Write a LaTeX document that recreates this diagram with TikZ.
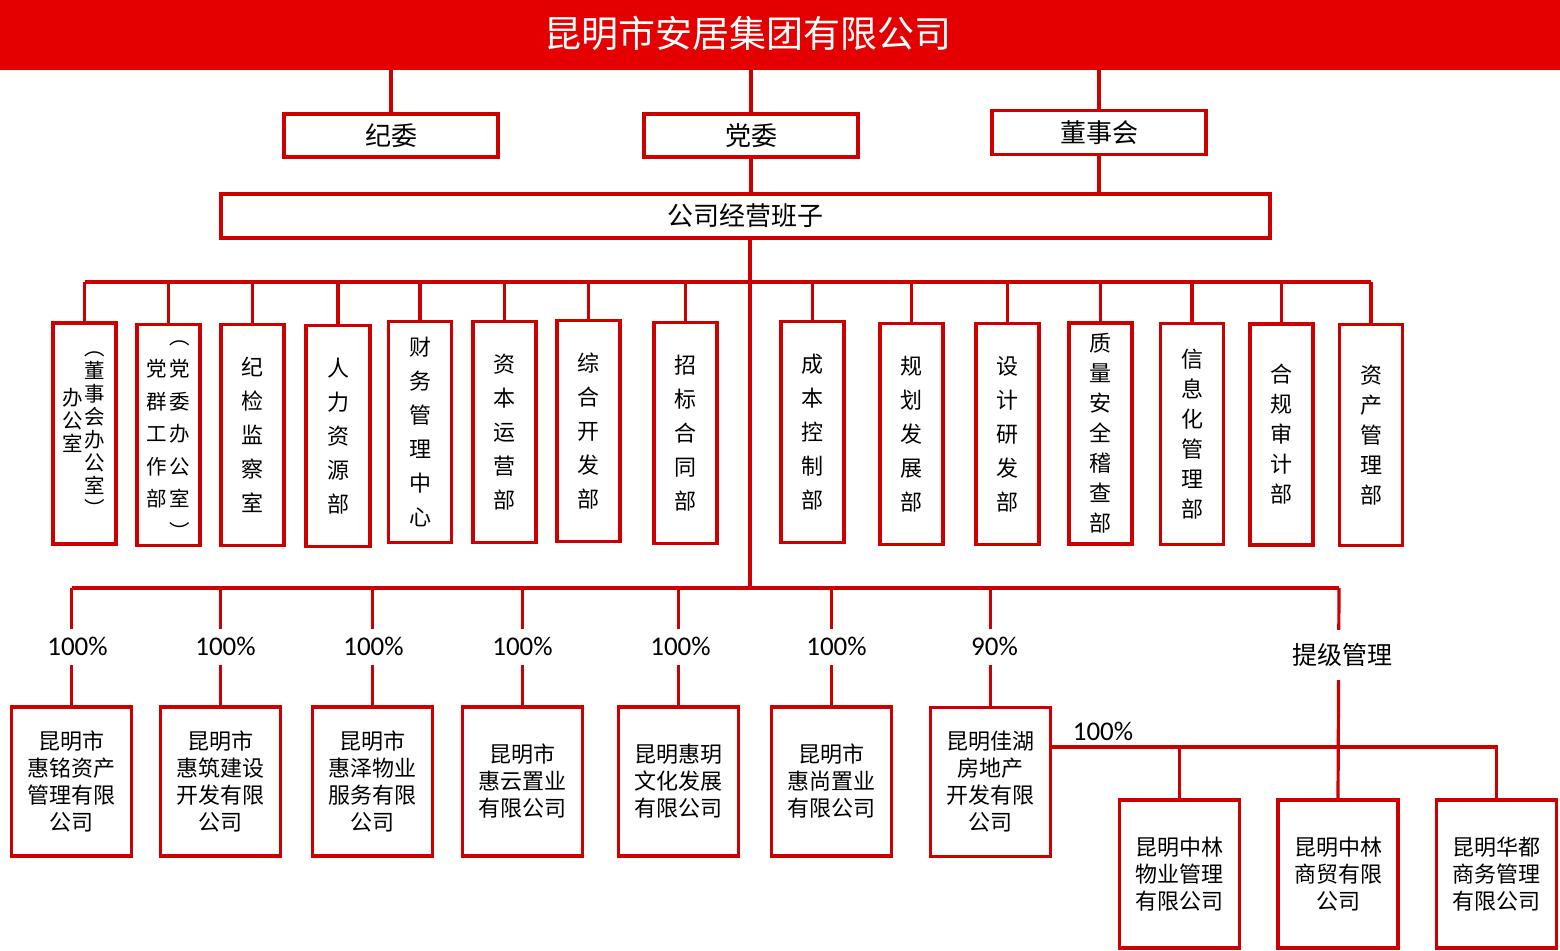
\documentclass[tikz,border=0pt]{standalone}
\usepackage{fontspec}
\setmainfont{Noto Sans CJK SC}
\newfontfamily\numfont{Carlito}
\definecolor{lred}{RGB}{204,0,0}
\definecolor{barred}{RGB}{228,0,0}
\tikzset{
  box/.style={draw=lred, line width=3.5pt, inner sep=0pt, align=center},
  topbox/.style={box, minimum width=214pt, minimum height=43pt, font=\fontsize{26}{30}\selectfont},
  dept/.style={box, minimum width=63pt, minimum height=221pt, font=\fontsize{22}{34}\selectfont},
  deptb/.style={dept, font=\fontsize{22}{30}\selectfont},
  col/.style={inner sep=0pt, align=center},
  sub/.style={box, minimum width=120pt, minimum height=149pt, font=\fontsize{22}{27}\selectfont},
  link/.style={draw=lred, line width=3.2pt},
  pct/.style={fill=white, inner sep=0pt, minimum height=36pt, minimum width=70pt, font=\numfont\fontsize{27}{30}\selectfont},
}
\begin{document}
\begin{tikzpicture}[x=1pt,y=-1pt]
\useasboundingbox (0,0) rectangle (1560,950);
% title bar
\node[fill=barred, minimum width=1560pt, minimum height=70pt, inner sep=0pt] (title) at (780,35) {};
\node[text=white, font=\fontsize{37}{40}\selectfont, inner sep=0pt] (titletext) at (748,33) {昆明市安居集团有限公司};
% top boxes
\node[topbox] (jiwei) at (391,135.5) {纪委};
\node[topbox] (dangwei) at (751,135.5) {党委};
\node[topbox, minimum height=44pt] (dongshi) at (1099,132.5) {董事会};
\node[box, minimum width=1049pt, minimum height=44pt, font=\fontsize{26}{30}\selectfont] (banzi) at (745.5,216) {公司经营班子};
\draw[link] (title.south -| jiwei) -- (jiwei.north);
\draw[link] (title.south -| dangwei) -- (dangwei.north);
\draw[link] (title.south -| dongshi) -- (dongshi.north);
\draw[link] (dangwei.south) -- (banzi.north -| dangwei);
\draw[link] (dongshi.south) -- (banzi.north -| dongshi);
% bus coordinates
\coordinate (m1) at (750,282);
\coordinate (m2) at (750,588);
\draw[link] (banzi.south -| m1) -- (m2);
% departments
\node[dept] (d1) at (84.5,433.5) {};
\node[col, font=\fontsize{20.5}{23}\selectfont] (d1r) at (95,434) {︵\\董\\事\\会\\办\\公\\室\\︶};
\node[col, font=\fontsize{20.5}{23}\selectfont] (d1l) at (73,420) {办\\公\\室};
\node[dept] (d2) at (168.5,435) {};
\node[col, font=\fontsize{20.5}{32.5}\selectfont] (d2r) at (180,440) {︵\\党\\委\\办\\公\\室\\︶};
\node[col, font=\fontsize{20.5}{32.5}\selectfont] (d2l) at (157,434) {党\\群\\工\\作\\部};
\node[dept] (d3) at (252.5,435) {纪\\检\\监\\察\\室};
\node[dept, minimum width=64pt] (d4) at (338,436) {人\\力\\资\\源\\部};
\node[dept] (d5) at (420,432) {财\\务\\管\\理\\中\\心};
\node[dept] (d6) at (504.5,432) {资\\本\\运\\营\\部};
\node[dept] (d7) at (588.5,431) {综\\合\\开\\发\\部};
\node[dept] (d8) at (685.5,433) {招\\标\\合\\同\\部};
\node[dept] (d9) at (812.5,432) {成\\本\\控\\制\\部};
\node[dept] (d10) at (911.5,434) {规\\划\\发\\展\\部};
\node[dept] (d11) at (1007.5,434) {设\\计\\研\\发\\部};
\node[deptb] (d12) at (1100.5,433.5) {质\\量\\安\\全\\稽\\查\\部};
\node[deptb] (d13) at (1192,434) {信\\息\\化\\管\\理\\部};
\node[deptb] (d14) at (1281.5,434.5) {合\\规\\审\\计\\部};
\node[deptb] (d15) at (1371,435) {资\\产\\管\\理\\部};
\draw[link] (d1.north |- m1) -- (d15.north |- m1);
\foreach \d in {d1,d2,d3,d4,d5,d6,d7,d8,d9,d10,d11,d12,d13,d14,d15}
  \draw[link] (\d.north |- m1) -- (\d.north);
% subsidiaries
\node[sub] (s1) at (71.5,781.5) {昆明市\\惠铭资产\\管理有限\\公司};
\node[sub] (s2) at (220.5,781.5) {昆明市\\惠筑建设\\开发有限\\公司};
\node[sub] (s3) at (372.5,781.5) {昆明市\\惠泽物业\\服务有限\\公司};
\node[sub] (s4) at (522.5,781.5) {昆明市\\惠云置业\\有限公司};
\node[sub] (s5) at (678.5,781.5) {昆明惠玥\\文化发展\\有限公司};
\node[sub] (s6) at (831.5,781.5) {昆明市\\惠尚置业\\有限公司};
\node[sub] (s7) at (990.5,782) {昆明佳湖\\房地产\\开发有限\\公司};
\coordinate (tj) at (1339,588);
\draw[link] (s1.north |- m2) -- (tj);
\foreach \s/\p/\dx in {s1/100\%/6,s2/100\%/5,s3/100\%/1,s4/100\%/0,s5/100\%/2,s6/100\%/5,s7/90\%/4}
  \draw[link] (\s.north |- m2) -- node[pct, xshift=\dx pt] {\p} (\s.north);
% second level
\node[sub, minimum height=148pt] (zl) at (1179.5,874) {昆明中林\\物业管理\\有限公司};
\node[sub, minimum height=148pt] (zm) at (1338,874) {昆明中林\\商贸有限\\公司};
\node[sub, minimum height=148pt] (hd) at (1496.5,874) {昆明华都\\商务管理\\有限公司};
\coordinate (h) at (1051,747);
\draw[link] (tj) -- node[pos=0.32, fill=white, inner sep=0pt, minimum height=50pt, xshift=4pt, font=\fontsize{25}{28}\selectfont] (tjlabel) {提级管理} (zm.north);
\draw[link] (s7.east |- h) -- (hd.north |- h) -- (hd.north);
\draw[link] (zl.north |- h) -- (zl.north);
\node[inner sep=0pt, font=\numfont\fontsize{27}{30}\selectfont] (p100) at (1103,731) {100\%};
\end{tikzpicture}
\end{document}
